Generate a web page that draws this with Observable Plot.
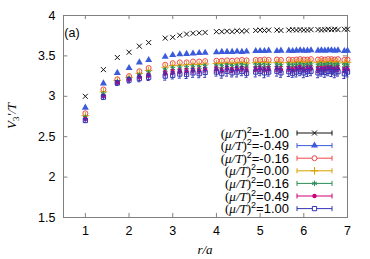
<!DOCTYPE html>
<html><head><meta charset="utf-8">
<script src="https://cdn.jsdelivr.net/npm/d3@7"></script>
<script src="https://cdn.jsdelivr.net/npm/@observablehq/plot@0.6"></script>
<style>
html,body{margin:0;padding:0;background:#fff;}
svg{display:block;}
</style>
</head><body>
<div id="chart"></div>
<script>
const rValues = [1, 1.414, 1.732, 2, 2.236, 2.449, 2.828, 3, 3.162, 3.317, 3.464, 3.606, 3.742, 4, 4.123, 4.243, 4.359, 4.472, 4.583, 4.690, 4.899, 5, 5.099, 5.196, 5.385, 5.477, 5.657, 5.745, 5.831, 5.916, 6, 6.083, 6.164, 6.325, 6.403, 6.481, 6.557, 6.633, 6.708, 6.782, 6.928, 7];
const seriesLabels = ["-1.00", "-0.49", "-0.16", "0.00", "0.16", "0.49", "1.00"];
const vMinus100 = [3.00, 3.33, 3.48, 3.545, 3.62, 3.665, 3.72, 3.73, 3.755, 3.77, 3.78, 3.785, 3.79, 3.80, 3.80, 3.805, 3.80, 3.81, 3.805, 3.81, 3.815, 3.82, 3.815, 3.82, 3.82, 3.815, 3.82, 3.825, 3.82, 3.825, 3.82, 3.82, 3.825, 3.825, 3.82, 3.825, 3.83, 3.825, 3.83, 3.825, 3.83, 3.83];
const vMinus049 = [2.86, 3.16, 3.29, 3.35, 3.42, 3.45, 3.49, 3.51, 3.52, 3.525, 3.53, 3.535, 3.54, 3.545, 3.55, 3.55, 3.55, 3.555, 3.55, 3.555, 3.56, 3.56, 3.56, 3.565, 3.56, 3.565, 3.565, 3.56, 3.565, 3.57, 3.565, 3.565, 3.57, 3.565, 3.57, 3.565, 3.57, 3.57, 3.565, 3.57, 3.56, 3.565];
const vMinus016 = [2.79, 3.085, 3.21, 3.25, 3.31, 3.35, 3.39, 3.41, 3.42, 3.42, 3.43, 3.43, 3.435, 3.44, 3.44, 3.445, 3.44, 3.445, 3.45, 3.445, 3.45, 3.45, 3.455, 3.45, 3.455, 3.45, 3.455, 3.45, 3.455, 3.46, 3.455, 3.455, 3.46, 3.455, 3.46, 3.455, 3.46, 3.46, 3.455, 3.46, 3.45, 3.455];
const vZero = [2.76, 3.055, 3.195, 3.235, 3.285, 3.32, 3.36, 3.38, 3.385, 3.39, 3.395, 3.395, 3.40, 3.405, 3.41, 3.41, 3.405, 3.41, 3.415, 3.41, 3.415, 3.42, 3.42, 3.415, 3.42, 3.415, 3.42, 3.415, 3.42, 3.425, 3.42, 3.42, 3.425, 3.42, 3.425, 3.42, 3.425, 3.425, 3.42, 3.425, 3.415, 3.42];
const vPlus016 = [2.74, 3.03, 3.18, 3.22, 3.26, 3.29, 3.325, 3.345, 3.35, 3.355, 3.36, 3.36, 3.37, 3.375, 3.37, 3.38, 3.37, 3.375, 3.38, 3.375, 3.38, 3.385, 3.38, 3.38, 3.385, 3.38, 3.385, 3.38, 3.385, 3.39, 3.38, 3.385, 3.39, 3.38, 3.39, 3.385, 3.39, 3.39, 3.38, 3.39, 3.38, 3.385];
const vPlus049 = [2.72, 3.005, 3.17, 3.21, 3.24, 3.26, 3.285, 3.30, 3.31, 3.31, 3.32, 3.315, 3.33, 3.335, 3.32, 3.34, 3.325, 3.335, 3.34, 3.325, 3.335, 3.34, 3.33, 3.335, 3.34, 3.33, 3.34, 3.325, 3.34, 3.345, 3.33, 3.34, 3.345, 3.33, 3.34, 3.335, 3.345, 3.34, 3.33, 3.34, 3.325, 3.335];
const vPlus100 = [2.70, 2.99, 3.165, 3.20, 3.22, 3.235, 3.25, 3.26, 3.275, 3.27, 3.29, 3.28, 3.295, 3.30, 3.28, 3.31, 3.29, 3.30, 3.31, 3.285, 3.30, 3.31, 3.29, 3.30, 3.31, 3.29, 3.305, 3.285, 3.30, 3.31, 3.29, 3.305, 3.31, 3.29, 3.30, 3.295, 3.31, 3.305, 3.29, 3.305, 3.28, 3.30];
const ePlus016 = [0.01, 0.01, 0.015, 0.015, 0.02, 0.02, 0.02, 0.02, 0.025, 0.02, 0.025, 0.02, 0.025, 0.02, 0.025, 0.02, 0.025, 0.02, 0.025, 0.02, 0.025, 0.02, 0.025, 0.02, 0.025, 0.02, 0.025, 0.02, 0.025, 0.02, 0.025, 0.02, 0.025, 0.02, 0.025, 0.02, 0.025, 0.02, 0.025, 0.02, 0.025, 0.02];
const ePlus049 = [0.01, 0.015, 0.02, 0.02, 0.025, 0.025, 0.03, 0.03, 0.03, 0.035, 0.03, 0.035, 0.03, 0.035, 0.03, 0.035, 0.03, 0.035, 0.03, 0.035, 0.03, 0.035, 0.03, 0.035, 0.03, 0.035, 0.03, 0.035, 0.03, 0.035, 0.03, 0.035, 0.03, 0.035, 0.03, 0.035, 0.03, 0.035, 0.03, 0.035, 0.03, 0.035];
const ePlus100 = [0.02, 0.03, 0.03, 0.035, 0.04, 0.04, 0.05, 0.045, 0.05, 0.05, 0.055, 0.05, 0.06, 0.05, 0.055, 0.06, 0.05, 0.06, 0.055, 0.05, 0.06, 0.055, 0.06, 0.05, 0.06, 0.055, 0.06, 0.05, 0.06, 0.055, 0.06, 0.06, 0.055, 0.06, 0.05, 0.06, 0.055, 0.06, 0.06, 0.055, 0.06, 0.06];
const xTicks = [1, 2, 3, 4, 5, 6, 7];
const yTicks = [1.5, 2, 2.5, 3, 3.5, 4];

const colors = ["#111111", "#3b5bdb", "#f04848", "#d8a000", "#2e8b57", "#cc0077", "#3535b5"];
const symbols = ["times", "triangle", "circle", "plus", "asterisk", "circle", "square"];
const filled = [false, true, false, false, false, true, false];
const radii = [2.4, 2.6, 2.5, 2.6, 2.6, 2.2, 2.4];
const valueSets = [vMinus100, vMinus049, vMinus016, vZero, vPlus016, vPlus049, vPlus100];
const errSets = [null, null, null, null, ePlus016, ePlus049, ePlus100];

const FONT = "Liberation Sans, Arial, Helvetica, sans-serif";
const SERIF = "Liberation Serif, Times New Roman, serif";
const marks = [];
marks.push(Plot.frame({stroke: "#808080", strokeWidth: 1}));
// inward ticks
marks.push(Plot.ruleX(xTicks, {x: d => d, y1: 1.5, y2: 1.55, stroke: "#808080"}));
marks.push(Plot.ruleX(xTicks, {x: d => d, y1: 3.95, y2: 4, stroke: "#808080"}));
marks.push(Plot.ruleY(yTicks, {y: d => d, x1: 0.5, x2: 0.6, stroke: "#808080"}));
marks.push(Plot.ruleY(yTicks, {y: d => d, x1: 6.9, x2: 7, stroke: "#808080"}));
marks.push(Plot.axisX({ticks: xTicks, tickSize: 0, tickPadding: 9, label: null, fontSize: 12.5, tickFormat: d => String(d), fill: "#000"}));
marks.push(Plot.axisY({ticks: yTicks, tickSize: 0, tickPadding: 8, label: null, fontSize: 12.5, tickFormat: d => String(d), fill: "#000"}));

valueSets.forEach((vals, i) => {
  const data = rValues.map((r, k) => ({r, v: vals[k], e: errSets[i] ? errSets[i][k] : 0}));
  if (errSets[i]) {
    marks.push(Plot.ruleX(data, {x: "r", y1: d => d.v - d.e, y2: d => d.v + d.e, stroke: colors[i], strokeWidth: 1}));
    marks.push(Plot.ruleY(data, {y: d => d.v - d.e, x1: d => d.r - 0.035, x2: d => d.r + 0.035, stroke: colors[i], strokeWidth: 1}));
    marks.push(Plot.ruleY(data, {y: d => d.v + d.e, x1: d => d.r - 0.035, x2: d => d.r + 0.035, stroke: colors[i], strokeWidth: 1}));
  }
  marks.push(Plot.dot(data, {
    x: "r", y: "v", symbol: symbols[i], r: radii[i],
    stroke: filled[i] ? "none" : colors[i],
    fill: filled[i] ? colors[i] : "none",
    strokeWidth: 1
  }));
});

const chart = Plot.plot({
  width: 370, height: 259,
  marginLeft: 63, marginRight: 23, marginTop: 15, marginBottom: 42,
  style: {fontFamily: FONT, background: "#fff", color: "#000"},
  x: {domain: [0.5, 7]},
  y: {domain: [1.5, 4]},
  marks
});
document.getElementById("chart").appendChild(chart);

const svg = d3.select(chart);
// panel label
svg.append("text").attr("x", 72).attr("y", 37).attr("font-family", FONT).attr("font-size", 12.5).text("(a)");
// y axis label
const yl = svg.append("text").attr("transform", "translate(16,116) rotate(-90)").attr("text-anchor", "middle")
  .attr("font-family", SERIF).attr("font-size", 13).attr("font-style", "italic");
yl.append("tspan").text("V");
yl.append("tspan").attr("font-size", 9).attr("dy", 3).attr("font-style", "normal").text("3");
yl.append("tspan").attr("dy", -3).text("'/T");
// x axis label
svg.append("text").attr("x", 205).attr("y", 254).attr("text-anchor", "middle")
  .attr("font-family", SERIF).attr("font-size", 13).attr("font-style", "italic").text("r/a");

// legend
const symMap = {times: d3.symbolTimes, triangle: d3.symbolTriangle, circle: d3.symbolCircle, plus: d3.symbolPlus, asterisk: d3.symbolAsterisk, square: d3.symbolSquare};
seriesLabels.forEach((lab, i) => {
  const yy = 133 + i * 12.6;
  const g = svg.append("g");
  const t = g.append("text").attr("x", 289).attr("y", yy + 4.5).attr("text-anchor", "end").attr("font-size", 13);
  t.append("tspan").attr("font-family", SERIF).text("(");
  t.append("tspan").attr("font-family", SERIF).attr("font-style", "italic").text("μ/T");
  t.append("tspan").attr("font-family", SERIF).text(")");
  t.append("tspan").attr("font-family", FONT).attr("font-size", 9).attr("dy", -5).text("2");
  t.append("tspan").attr("font-family", FONT).attr("dy", 5).text("=" + lab);
  g.append("line").attr("x1", 297).attr("x2", 332).attr("y1", yy).attr("y2", yy).attr("stroke", colors[i]);
  g.append("line").attr("x1", 297).attr("x2", 297).attr("y1", yy - 2.5).attr("y2", yy + 2.5).attr("stroke", colors[i]);
  g.append("line").attr("x1", 332).attr("x2", 332).attr("y1", yy - 2.5).attr("y2", yy + 2.5).attr("stroke", colors[i]);
  g.append("path").attr("transform", `translate(314.5,${yy})`)
    .attr("d", d3.symbol(symMap[symbols[i]], Math.PI * radii[i] * radii[i])())
    .attr("fill", filled[i] ? colors[i] : "white")
    .attr("stroke", filled[i] ? "none" : colors[i]);
});
</script>
</body></html>
